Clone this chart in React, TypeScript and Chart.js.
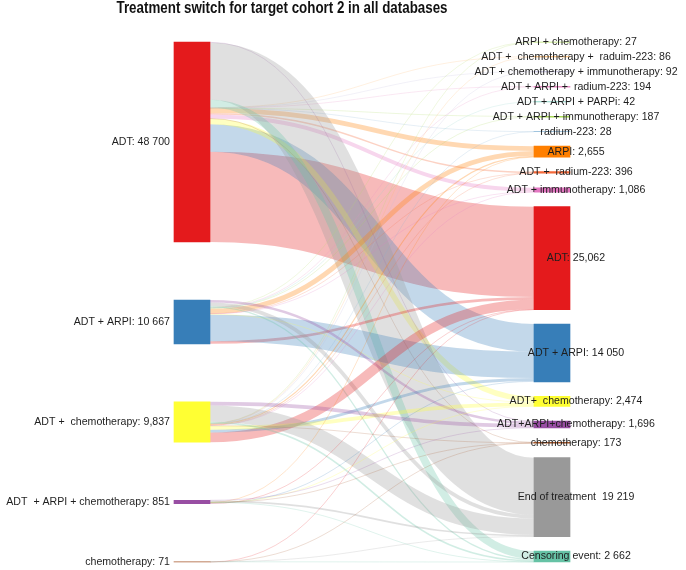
import React, { useEffect, useRef } from 'react';
import { Chart, registerables } from 'chart.js';

Chart.register(...registerables);

// ---------------- data ----------------
const TITLE = 'Treatment switch for target cohort 2 in all databases';

const SOURCE_LABELS = [
  'ADT: 48 700',
  'ADT + ARPI: 10 667',
  'ADT +  chemotherapy: 9,837',
  'ADT  + ARPI + chemotherapy: 851',
  'chemotherapy: 71',
];
const SOURCE_COLORS = ['#e41a1c', '#377eb8', '#ffff33', '#984ea3', '#a65628'];

const TARGET_LABELS = [
  'ARPI + chemotherapy: 27',
  'ADT +  chemotherapy +  raduim-223: 86',
  'ADT + chemotherapy + immunotherapy: 92',
  'ADT + ARPI +  radium-223: 194',
  'ADT + ARPI + PARPi: 42',
  'ADT + ARPI + immunotherapy: 187',
  'radium-223: 28',
  'ARPI: 2,655',
  'ADT +  radium-223: 396',
  'ADT + immunotherapy: 1,086',
  'ADT: 25,062',
  'ADT + ARPI: 14 050',
  'ADT+  chemotherapy: 2,474',
  'ADT+ARPI+chemotherapy: 1,696',
  'chemotherapy: 173',
  'End of treatment  19 219',
  'Censoring event: 2 662',
];
const TARGET_COLORS = [
  '#b3de69', '#fdb462', '#bebada', '#e78ac3', '#8dd3c7', '#a6d854', '#80b1d3',
  '#ff7f00', '#f4693a', '#e377c2', '#e41a1c', '#377eb8', '#ffff33', '#984ea3',
  '#a65628', '#999999', '#66c2a5',
];

// flows from each starting treatment to each next state (target order above)
const FROM_ADT = [0, 26, 32, 44, 0, 67, 20, 1150, 350, 950, 22000, 6700, 1350, 150, 41, 13920, 1900];
const FROM_ADT_ARPI = [15, 0, 0, 150, 42, 120, 0, 1200, 16, 56, 650, 6438, 180, 600, 0, 900, 300];
const FROM_ADT_CHEMO = [12, 60, 60, 0, 0, 0, 8, 280, 30, 80, 2350, 712, 900, 900, 92, 3956, 400];
const FROM_ADT_ARPI_CHEMO = [0, 0, 0, 0, 0, 0, 0, 25, 0, 0, 50, 200, 44, 46, 12, 424, 50];
const FROM_CHEMO = [0, 0, 0, 0, 0, 0, 0, 0, 0, 0, 12, 0, 0, 0, 28, 19, 12];

// order in which a source's outgoing bands are stacked (target indices)
const OUTFLOW_ORDER = [13, 15, 16, 0, 1, 2, 3, 4, 5, 6, 7, 8, 9, 14, 12, 11, 10];

// ---------------- layout ----------------
const CANVAS_W = 686;
const CANVAS_H = 570;
const PAD = { top: 42, bottom: 8, left: 192, right: 134 };
const NODE_W = 36;
const NODE_PAD = 14.5;
const LINK_ALPHA = 0.3;
const THIN_ALPHA = 0.2;
const TITLE_WIDTH = 331;

const FLOWS = [FROM_ADT, FROM_ADT_ARPI, FROM_ADT_CHEMO, FROM_ADT_ARPI_CHEMO, FROM_CHEMO];
const sum = (a: number[]) => a.reduce((s, v) => s + v, 0);
const sourceTotals = FLOWS.map(sum);
const targetTotals = TARGET_LABELS.map((_, j) => sum(FLOWS.map((r) => r[j])));

const PLOT_H = CANVAS_H - PAD.top - PAD.bottom;
const maxN = Math.max(sourceTotals.length, targetTotals.length);
const maxTotal = Math.max(sum(sourceTotals), sum(targetTotals));
const KY = (PLOT_H - (maxN - 1) * NODE_PAD) / maxTotal;
const Y_MAX = PLOT_H / KY;

function stack(values: number[]): [number, number][] {
  const gap = values.length > 1 ? (Y_MAX - sum(values)) / (values.length - 1) : 0;
  let y = 0;
  return values.map((v) => {
    const r: [number, number] = [y, y + v];
    y += v + gap;
    return r;
  });
}
const sourceSpans = stack(sourceTotals);
const targetSpans = stack(targetTotals);

function rgba(hex: string, a: number) {
  const n = parseInt(hex.slice(1), 16);
  return `rgba(${(n >> 16) & 255},${(n >> 8) & 255},${n & 255},${a})`;
}

const LABEL_FONT = '10.6px "Liberation Sans", Arial, sans-serif';
const TEXT_COLOR = '#1e1e1e';

const sankeyPlugin = {
  id: 'sankeyPlugin',
  beforeDatasetsDraw(chart: any) {
    const { ctx, scales } = chart;
    const x = scales.x;
    const y = scales.y;
    const xs = x.getPixelForValue(0) + NODE_W / 2;
    const xt = x.getPixelForValue(1) - NODE_W / 2;
    const xm = (xs + xt) / 2;
    const srcPos: number[][] = FLOWS.map(() => []);
    FLOWS.forEach((row, i) => {
      let off = sourceSpans[i][0];
      OUTFLOW_ORDER.forEach((j) => {
        if (row[j] > 0) {
          srcPos[i][j] = off;
          off += row[j];
        }
      });
    });
    const tgtPos: number[][] = FLOWS.map(() => []);
    TARGET_LABELS.forEach((_, j) => {
      let off = targetSpans[j][0];
      FLOWS.forEach((row, i) => {
        if (row[j] > 0) {
          tgtPos[i][j] = off;
          off += row[j];
        }
      });
    });
    ctx.save();
    ctx.lineCap = 'butt';
    FLOWS.forEach((row, i) => {
      row.forEach((v, j) => {
        if (!(v > 0)) return;
        const sy = y.getPixelForValue(srcPos[i][j] + v / 2);
        const ty = y.getPixelForValue(tgtPos[i][j] + v / 2);
        const w = Math.abs(y.getPixelForValue(v) - y.getPixelForValue(0));
        ctx.strokeStyle = rgba(TARGET_COLORS[j], w < 1 ? THIN_ALPHA : LINK_ALPHA);
        ctx.lineWidth = Math.max(w, 1);
        ctx.beginPath();
        ctx.moveTo(xs, sy);
        ctx.bezierCurveTo(xm, sy, xm, ty, xt, ty);
        ctx.stroke();
      });
    });
    ctx.restore();
  },
  afterDatasetsDraw(chart: any) {
    const { ctx, scales } = chart;
    const x = scales.x;
    const y = scales.y;
    ctx.save();
    ctx.font = LABEL_FONT;
    ctx.fillStyle = TEXT_COLOR;
    ctx.textBaseline = 'middle';
    ctx.textAlign = 'right';
    const lx = x.getPixelForValue(0) - NODE_W / 2 - 4;
    SOURCE_LABELS.forEach((t, i) => {
      const s = sourceSpans[i];
      ctx.fillText(t, lx, y.getPixelForValue((s[0] + s[1]) / 2));
    });
    ctx.textAlign = 'center';
    const rx = x.getPixelForValue(1) + NODE_W / 2 + 6;
    TARGET_LABELS.forEach((t, j) => {
      const s = targetSpans[j];
      ctx.fillText(t, rx, y.getPixelForValue((s[0] + s[1]) / 2));
    });
    ctx.restore();
  },
  afterDraw(chart: any) {
    const { ctx, scales } = chart;
    const x = scales.x;
    ctx.save();
    ctx.font = 'bold 16px "Liberation Sans", Arial, sans-serif';
    ctx.fillStyle = '#111';
    ctx.textAlign = 'center';
    ctx.textBaseline = 'alphabetic';
    const w = ctx.measureText(TITLE).width;
    const cx = x.getPixelForValue(0.25);
    ctx.translate(cx, 13);
    ctx.scale(TITLE_WIDTH / w, 1);
    ctx.fillText(TITLE, 0, 0);
    ctx.restore();
  },
};

export default function App() {
  const ref = useRef<HTMLCanvasElement>(null);
  useEffect(() => {
    const nodes = [
      ...sourceSpans.map((s) => ({ x: 0, y: s })),
      ...targetSpans.map((s) => ({ x: 1, y: s })),
    ];
    const chart = new Chart(ref.current as HTMLCanvasElement, {
      type: 'bar',
      data: {
        datasets: [
          {
            data: nodes as any,
            backgroundColor: [...SOURCE_COLORS, ...TARGET_COLORS],
            borderWidth: 0,
            barThickness: NODE_W,
            clip: false as any,
          } as any,
        ],
      },
      options: {
        responsive: false,
        animation: false,
        devicePixelRatio: 1,
        layout: { padding: PAD },
        plugins: { legend: { display: false }, tooltip: { enabled: false }, title: { display: false } },
        scales: {
          x: { type: 'linear', min: 0, max: 1, offset: false, display: false },
          y: { type: 'linear', min: 0, max: Y_MAX, reverse: true, display: false },
        },
      },
      plugins: [sankeyPlugin],
    });
    return () => chart.destroy();
  }, []);
  return (
    <div style={{ position: 'absolute', left: 0, top: 0, width: CANVAS_W, height: CANVAS_H }}>
      <canvas ref={ref} width={CANVAS_W} height={CANVAS_H} style={{ display: 'block' }} />
    </div>
  );
}
